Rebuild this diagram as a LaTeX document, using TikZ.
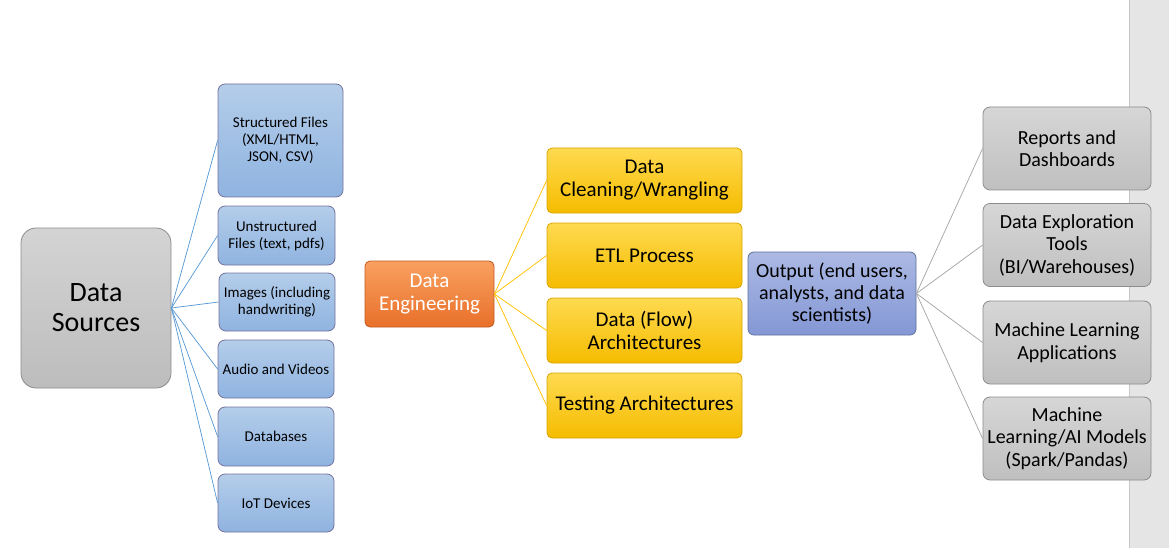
\documentclass[tikz,border=0pt]{standalone}
\usepackage{fontspec}
\setmainfont{Carlito}

\definecolor{srcline}{HTML}{5B9BD5}
\definecolor{engline}{HTML}{FFC000}
\definecolor{outline}{HTML}{A6A6A6}

\tikzset{
  srcbox/.style={draw=black!45,line width=0.8pt,rounded corners=15pt,top color=black!17,bottom color=black!26,
    minimum width=150pt,minimum height=160pt,align=center,font=\fontsize{28}{30}\selectfont},
  filebox/.style={draw=blue!30!black!55,line width=0.8pt,rounded corners=7pt,top color={rgb,255:red,180;green,205;blue,234},
    bottom color={rgb,255:red,143;green,179;blue,224},inner sep=0pt,align=center,
    font=\fontsize{15}{17}\selectfont},
  engbox/.style={draw={rgb,255:red,194;green,90;blue,30},line width=0.8pt,rounded corners=5pt,
    top color={rgb,255:red,249;green,160;blue,96},bottom color={rgb,255:red,232;green,112;blue,42},
    text=white,minimum width=129pt,minimum height=66pt,align=center,font=\fontsize{21}{23}\selectfont},
  stepbox/.style={draw={rgb,255:red,217;green,164;blue,0},line width=0.8pt,rounded corners=5pt,
    top color={rgb,255:red,255;green,218;blue,80},bottom color={rgb,255:red,245;green,188;blue,0},
    minimum width=195pt,minimum height=65pt,inner sep=0pt,align=center,font=\fontsize{21}{23}\selectfont},
  outbox/.style={draw={rgb,255:red,94;green,111;blue,158},line width=0.8pt,rounded corners=6pt,
    top color={rgb,255:red,171;green,185;blue,227},bottom color={rgb,255:red,132;green,151;blue,213},
    minimum width=168pt,minimum height=83pt,inner sep=0pt,align=center,font=\fontsize{20}{22}\selectfont},
  usebox/.style={draw=black!45,line width=0.8pt,rounded corners=7pt,top color=black!16,bottom color=black!25,
    minimum width=168pt,minimum height=83pt,inner sep=0pt,align=center,font=\fontsize{20}{22.5}\selectfont}
}

\begin{document}
\begin{tikzpicture}[x=1pt,y=-1pt]
                    \useasboundingbox (0,0) rectangle (1169,548);
                    \fill [black!10] (1129,0) rectangle (1169,548);
                    \draw [black!22] (1129,0) -- (1129,548);

                    \node [srcbox] (src) at (96,308) {Data\\Sources};
                    \node [filebox,minimum width=125pt,minimum height=113pt] (struct) at (280.5,140.5) {Structured Files\\(XML/HTML,\\JSON, CSV)};
                    \node [filebox,minimum width=117pt,minimum height=59pt] (unstruct) at (276.5,235.5) {Unstructured\\Files (text, pdfs)};
                    \node [filebox,minimum width=116pt,minimum height=58pt] (images) at (277,302) {Images (including\\handwriting)};
                    \node [filebox,minimum width=116pt,minimum height=58pt] (audio) at (276,369) {Audio and Videos};
                    \node [filebox,minimum width=116pt,minimum height=59pt] (dbs) at (276,436.5) {Databases};
                    \node [filebox,minimum width=116pt,minimum height=58pt] (iot) at (276,503) {IoT Devices};
                    \foreach \n in {struct,unstruct,images,audio,dbs,iot}
                        \draw [srcline,line width=0.75pt] (src.east) -- (\n.west);

                    \node [engbox] (eng) at (429.5,294) {Data\\Engineering};
                    \node [stepbox] (clean) at (644.5,180.5) {Data\\Cleaning/Wrangling};
                    \node [stepbox] (etl) at (644.5,255.5) {ETL Process};
                    \node [stepbox] (flow) at (644.5,330.5) {Data (Flow)\\Architectures};
                    \node [stepbox] (test) at (644.5,405.5) {Testing Architectures};
                    \foreach \n in {clean,etl,flow,test}
                        \draw [engline,line width=0.75pt] (eng.east) -- (\n.west);

                    \node [outbox] (out) at (832,293.5) {Output (end users,\\analysts, and data\\scientists)};
                    \node [usebox] (reports) at (1067,148.5) {Reports and\\Dashboards};
                    \node [usebox] (explore) at (1067,245) {Data Exploration\\Tools\\(BI/Warehouses)};
                    \node [usebox] (mlapps) at (1067,342.5) {Machine Learning\\Applications};
                    \node [usebox] (mlmodels) at (1067,438.5) {Machine\\Learning/AI Models\\(Spark/Pandas)};
                    \foreach \n in {reports,explore,mlapps,mlmodels}
                        \draw [outline,line width=0.75pt] (out.east) -- (\n.west);
                \end{tikzpicture}
\end{document}
